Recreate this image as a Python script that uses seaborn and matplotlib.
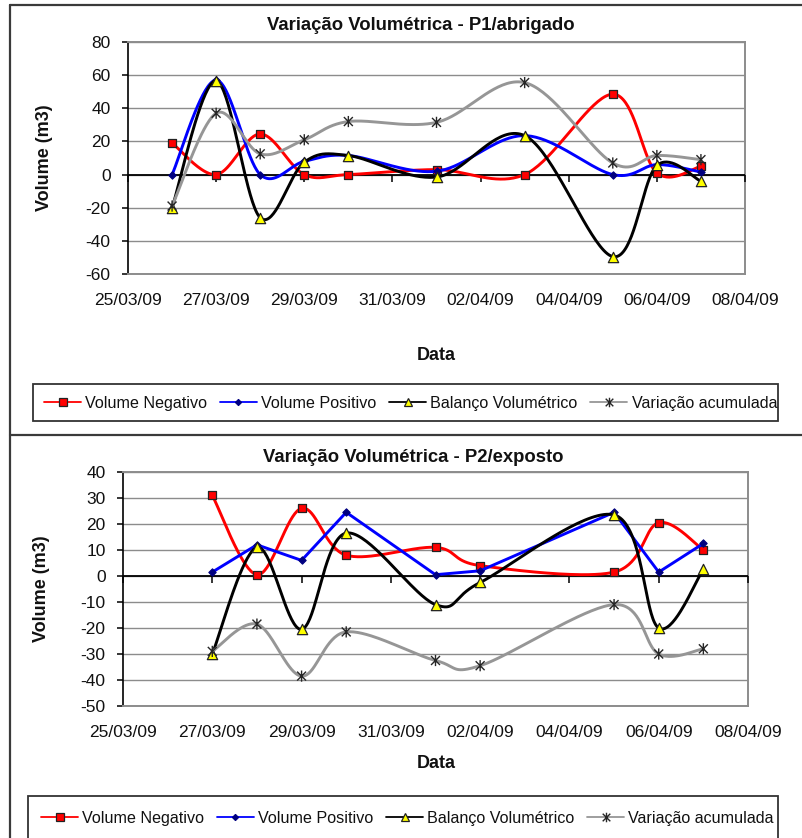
import warnings
import numpy as np
import pandas as pd
import matplotlib
matplotlib.use("Agg")
import matplotlib.pyplot as plt
import matplotlib.dates as mdates
from matplotlib.lines import Line2D
from matplotlib.patches import Rectangle
from matplotlib.path import Path
import seaborn as sns

warnings.filterwarnings("ignore")

# ---- P1 / abrigado ----
p1_dates = ["2009-03-26", "2009-03-27", "2009-03-28", "2009-03-29", "2009-03-30",
            "2009-04-01", "2009-04-03", "2009-04-05", "2009-04-06", "2009-04-07"]
p1_negativo = [19, 0, 24.5, 0, 0, 3, 0, 48.5, 1, 5]
p1_positivo = [0, 57, 0, 8, 11.5, 2, 23.5, 0, 6, 1.5]
p1_balanco = [-20, 56.5, -26, 7.5, 11.5, -1.5, 23.5, -49.5, 5.5, -4]
p1_acumulada = [-19, 37, 12.5, 21, 32, 31.5, 55.5, 7, 11.5, 9]

# ---- P2 / exposto ----
p2_dates = ["2009-03-27", "2009-03-28", "2009-03-29", "2009-03-30", "2009-04-01",
            "2009-04-02", "2009-04-05", "2009-04-06", "2009-04-07"]
p2_negativo = [31, 0.5, 26, 8, 11, 4, 1.5, 20.5, 10]
p2_positivo = [1.5, 12, 6, 24.5, 0.5, 2, 24.5, 1.5, 12.5]
p2_balanco = [-30, 11, -20.5, 16.5, -11, -2.5, 23.5, -20, 2.5]
p2_acumulada = [-29, -18.5, -38.5, -21.5, -32.5, -34.5, -11, -30, -28]

series_names = ["Volume Negativo", "Volume Positivo", "Balanço Volumétrico", "Variação acumulada"]
x_start, x_end = "2009-03-25", "2009-04-08"

W, H = 802, 838
sns.set_theme(style="white")
plt.rcParams["font.family"] = ["Liberation Sans", "DejaVu Sans"]
plt.rcParams["axes.unicode_minus"] = False

fig = plt.figure(figsize=(W / 100, H / 100), dpi=100)
fig.patch.set_facecolor("white")


def px_axes(left, top, right, bottom):
    return fig.add_axes([left / W, 1 - bottom / H, (right - left) / W, (bottom - top) / H])


def bezier_smooth(x, y, sx, sy, n=40):
    """Smoothed line: cubic Bezier segments with Catmull-Rom control points."""
    P = np.column_stack([np.asarray(x) * sx, np.asarray(y) * sy])
    out = []
    m = len(P)
    for i in range(m - 1):
        p0 = P[i - 1] if i > 0 else P[i]
        p1, p2 = P[i], P[i + 1]
        p3 = P[i + 2] if i + 2 < m else P[i + 1]
        c1 = p1 + (p2 - p0) / 6.0
        c2 = p2 - (p3 - p1) / 6.0
        t = np.linspace(0, 1, n, endpoint=(i == m - 2))[:, None]
        seg = (1 - t) ** 3 * p1 + 3 * (1 - t) ** 2 * t * c1 + 3 * (1 - t) * t ** 2 * c2 + t ** 3 * p2
        out.append(seg)
    out = np.vstack(out)
    return out[:, 0] / sx, out[:, 1] / sy


# star marker: an X crossed by a vertical stroke
star = Path([(-1, -1), (1, 1), (-1, 1), (1, -1), (0, -1.25), (0, 1.25)],
            [Path.MOVETO, Path.LINETO, Path.MOVETO, Path.LINETO, Path.MOVETO, Path.LINETO])

styles = [
    dict(color="#ff0000", marker="s", s=40, fc="#ff0000", ec="#222222", mew=0.9),
    dict(color="#0000ff", marker="D", s=14, fc="#000080", ec="#000080", mew=0.8),
    dict(color="#000000", marker="^", s=55, fc="#ffff00", ec="#222222", mew=0.9),
    dict(color="#969696", marker=star, s=65, fc="none", ec="#262626", mew=1.0),
]


def draw_panel(ax, dates, series, ylim, ystep, smooth_flags, title, title_xy, ylabel_x, data_y):
    xn = mdates.date2num(pd.to_datetime(dates))
    x0 = mdates.date2num(pd.Timestamp(x_start))
    x1 = mdates.date2num(pd.Timestamp(x_end))
    bbox = ax.get_window_extent()
    sx = bbox.width / (x1 - x0)
    sy = bbox.height / (ylim[1] - ylim[0])

    for i, (vals, st, smooth) in enumerate(zip(series, styles, smooth_flags)):
        if smooth:
            xs, ys = bezier_smooth(xn, vals, sx, sy)
        else:
            xs, ys = xn, np.asarray(vals, dtype=float)
        sns.lineplot(x=xs, y=ys, ax=ax, color=st["color"], lw=2.1, sort=False,
                     estimator=None, zorder=4 + 2 * i)
        sns.scatterplot(x=xn, y=vals, ax=ax, marker=st["marker"], s=st["s"],
                        facecolor=st["fc"], edgecolor=st["ec"], linewidth=st["mew"],
                        zorder=5 + 2 * i)

    ax.set_xlim(x0, x1)
    ax.set_ylim(*ylim)
    ticks = mdates.date2num(pd.date_range(x_start, x_end, freq="2D"))
    ax.set_xticks(ticks)
    ax.xaxis.set_major_formatter(mdates.DateFormatter("%d/%m/%y"))
    ax.set_yticks(np.arange(ylim[0], ylim[1] + 0.1, ystep))

    ax.yaxis.grid(True, color="#8c8c8c", lw=1.0, zorder=0)
    ax.xaxis.grid(False)
    ax.set_axisbelow(True)
    for side in ("top", "right", "bottom"):
        ax.spines[side].set_color("#8c8c8c")
        ax.spines[side].set_linewidth(1.4)
    ax.spines["left"].set_color("#000000")
    ax.spines["left"].set_linewidth(1.2)

    # category axis crossing at zero, with tick marks hanging below it
    ax.axhline(0, color="#000000", lw=1.3, zorder=3)
    ax.plot(ticks, np.zeros_like(ticks), ls="none", marker=3, ms=5, mew=1.1,
            color="#000000", clip_on=False, zorder=3)

    ax.tick_params(axis="y", direction="out", length=4.5, width=1.1, color="#000000",
                   pad=8, labelsize=12.5, labelcolor="#111111", left=True)
    ax.tick_params(axis="x", length=0, pad=14, labelsize=12.5, labelcolor="#111111")

    ax.set_xlabel("")
    ax.set_ylabel("Volume (m3)", fontsize=13, fontweight="bold", color="#111111")
    ax.yaxis.set_label_coords(ylabel_x, 0.5)

    fig.text(title_xy[0] / W, 1 - title_xy[1] / H, title, ha="center", va="center",
             fontsize=13.3, fontweight="bold", color="#111111")
    fig.text(436 / W, 1 - data_y / H, "Data", ha="center", va="center",
             fontsize=13, fontweight="bold", color="#111111")


def legend_box(left, top, right, bottom, handle_x, text_y):
    fig.patches.append(Rectangle((left / W, 1 - bottom / H), (right - left) / W,
                                 (bottom - top) / H, transform=fig.transFigure,
                                 fill=False, ec="#333333", lw=1.3))
    handles = []
    for st in styles:
        handles.append(Line2D([], [], color=st["color"], lw=1.3, marker=st["marker"],
                              ms=np.sqrt(st["s"]) * 0.85,
                              mfc=st["fc"], mec=st["ec"], mew=st["mew"]))
    fig.legend(handles, series_names, loc="center left",
               bbox_to_anchor=(handle_x / W, 1 - text_y / H), ncol=4, frameon=False,
               borderpad=0, borderaxespad=0, handlelength=2.3, handletextpad=0.25,
               columnspacing=0.8, fontsize=11.6, labelcolor="#111111")


# outer chart frames
for xy in ([(10, 10), (5, 838)], [(10, 802), (5, 5)], [(10, 802), (435, 435)]):
    fig.add_artist(Line2D([x / W for x in xy[0]], [1 - y / H for y in xy[1]],
                          color="#3a3a3a", lw=1.6))

ax1 = px_axes(128, 42, 745, 274)
draw_panel(ax1, p1_dates, [p1_negativo, p1_positivo, p1_balanco, p1_acumulada],
           (-60, 80), 20, [True, True, True, True],
           "Variação Volumétrica - P1/abrigado", (421, 25), -0.122, 355)
legend_box(33, 384, 778, 421, 44, 403)

ax2 = px_axes(123, 472, 748, 706)
draw_panel(ax2, p2_dates, [p2_negativo, p2_positivo, p2_balanco, p2_acumulada],
           (-50, 40), 10, [True, False, True, True],
           "Variação Volumétrica - P2/exposto", (413, 457), -0.117, 763)
legend_box(28, 796, 778, 845, 41, 818)

fig.savefig("out.png", dpi=100, facecolor="white")
